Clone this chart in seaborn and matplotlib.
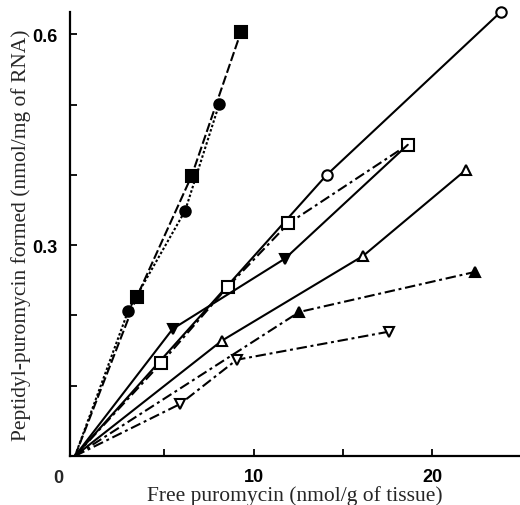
import matplotlib
matplotlib.use("Agg")
import matplotlib.pyplot as plt
import seaborn as sns
import numpy as np

sns.set_style("ticks")
plt.rcParams['font.family'] = ['Liberation Sans', 'DejaVu Sans']

# Data (x: free puromycin, nmol/g tissue; y: peptidyl-puromycin, nmol/mg RNA)
sq_filled_x = [0, 3.45, 6.53, 9.29]
sq_filled_y = [0, 0.226, 0.399, 0.604]
circ_filled_x = [0, 2.98, 6.16, 8.07]
circ_filled_y = [0, 0.207, 0.349, 0.501]
circ_open_x = [0, 14.08, 23.82]
circ_open_y = [0, 0.400, 0.632]
sq_open_x = [0, 4.81, 8.55, 11.94, 18.62]
sq_open_y = [0, 0.132, 0.241, 0.331, 0.443]
tri_down_filled_x = [0, 5.47, 11.75, 18.62]
tri_down_filled_y = [0, 0.181, 0.281, 0.443]
tri_up_open_x = [0, 8.21, 16.13, 21.86]
tri_up_open_y = [0, 0.164, 0.285, 0.407]
tri_up_filled_x = [0, 12.55, 22.38]
tri_up_filled_y = [0, 0.205, 0.262]
tri_down_open_x = [0, 5.88, 9.05, 17.57]
tri_down_open_y = [0, 0.074, 0.137, 0.177]

x_ticks_major = [10, 20]
x_ticks_minor = [5, 15]
y_ticks_major = [0.3, 0.6]
y_ticks_minor = [0.1, 0.2, 0.4, 0.5]

fig = plt.figure(figsize=(5.2, 5.06), dpi=100)
ax = fig.add_axes([70/520, 1-457/506, 450/520, 444/506])

dashdot = (0, (5, 1.8, 1.4, 1.8))
longdash = (0, (4.5, 1.5))
dotted = (0, (1.2, 1.0))

series = [
    (sq_filled_x, sq_filled_y, 's', 'k', longdash, None),
    (circ_filled_x, circ_filled_y, 'o', 'k', dotted, None),
    (circ_open_x, circ_open_y, 'o', 'w', '-', None),
    (sq_open_x, sq_open_y, 's', 'w', dashdot, None),
    (tri_down_filled_x, tri_down_filled_y, 'v', 'k', '-', [1, 2]),
    (tri_up_open_x, tri_up_open_y, '^', 'w', '-', None),
    (tri_up_filled_x, tri_up_filled_y, '^', 'k', dashdot, None),
    (tri_down_open_x, tri_down_open_y, 'v', 'w', dashdot, None),
]

for xs, ys, mk, fc, ls, me in series:
    me = me if me is not None else list(range(1, len(xs)))
    ms = 8 if mk == 's' else 7.5
    sns.lineplot(x=xs, y=ys, ax=ax, color='k', linewidth=1.5, linestyle=ls,
                 marker=mk, markersize=ms, markerfacecolor=fc,
                 markeredgecolor='k', markeredgewidth=1.5,
                 markevery=me, estimator=None, sort=False, clip_on=False,
                 zorder=3)

ax.set_xlim(-0.28, 24.9)
ax.set_ylim(0, 0.632)

for s in ['top', 'right']:
    ax.spines[s].set_visible(False)
for s in ['left', 'bottom']:
    ax.spines[s].set_linewidth(1.6)
    ax.spines[s].set_color('k')

ax.set_xticks(x_ticks_major)
ax.set_xticks(x_ticks_minor, minor=True)
ax.set_yticks(y_ticks_major)
ax.set_yticks(y_ticks_minor, minor=True)
ax.set_xticklabels([str(v) for v in x_ticks_major], fontweight='bold')
ax.set_yticklabels([str(v) for v in y_ticks_major], fontweight='bold')
ax.tick_params(axis='both', which='both', direction='in', length=5, width=1.3,
               colors='k', labelsize=13)
ax.tick_params(axis='x', which='major', pad=9)
ax.tick_params(axis='y', which='major', pad=9)

fig.text(58/520, 1-479/506, "0", ha='center', va='center', fontsize=13,
         fontweight='bold', family=['Liberation Sans', 'DejaVu Sans'])

ax.set_xlabel("Free puromycin (nmol/g of tissue)", family='Liberation Serif',
              fontsize=15.5, labelpad=0)
ax.set_ylabel("Peptidyl-puromycin formed (nmol/mg of RNA)", family='Liberation Serif',
              fontsize=15.5, labelpad=1)

fig.savefig("out.png", dpi=100)
